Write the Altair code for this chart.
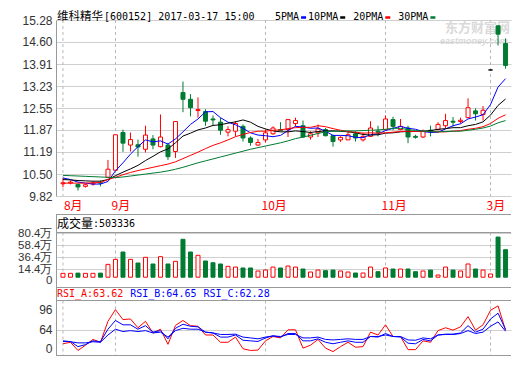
import altair as alt
import pandas as pd

# ---------------- data ----------------
opens = [10.20, 10.22, 10.18, 10.12, 10.19, 10.23, 10.40, 10.62, 11.79, 11.40,
         11.41, 11.27, 11.59, 11.35, 11.40, 11.20, 13.03, 12.82, 12.47, 12.44,
         12.21, 12.11, 11.80, 11.83, 11.98, 11.62, 11.40, 11.56, 11.75, 11.88,
         11.88, 12.07, 12.00, 11.65, 11.78, 11.88, 11.69, 11.56, 11.56, 11.75,
         11.56, 11.67, 11.83, 11.88, 12.19, 11.88, 11.93, 11.67, 11.65, 11.86,
         11.88, 12.00, 12.14, 12.13, 12.25, 12.46, 12.35, 13.73, 15.10, 14.55]
highs = [10.37, 10.30, 10.20, 10.20, 10.28, 10.30, 10.94, 11.72, 11.88, 11.79,
         11.57, 12.00, 11.71, 12.35, 11.47, 12.13, 13.37, 12.98, 12.88, 12.51,
         12.32, 12.25, 11.98, 12.14, 12.04, 11.67, 11.59, 11.88, 11.98, 12.11,
         12.19, 12.25, 12.16, 11.83, 12.04, 11.93, 11.72, 11.67, 11.83, 11.83,
         11.78, 12.14, 12.00, 12.32, 12.28, 12.21, 12.00, 11.72, 11.88, 12.00,
         12.11, 12.37, 12.27, 12.25, 12.85, 12.54, 12.61, 13.73, 15.10, 14.71]
lows = [10.09, 10.18, 9.99, 10.08, 10.14, 10.12, 10.37, 10.60, 11.19, 11.20,
        11.04, 11.17, 11.27, 11.33, 10.94, 11.00, 12.42, 12.29, 12.25, 12.00,
        12.00, 11.72, 11.67, 11.67, 11.51, 11.38, 11.38, 11.48, 11.72, 11.83,
        11.65, 11.98, 11.62, 11.57, 11.65, 11.67, 11.35, 11.50, 11.56, 11.51,
        11.51, 11.65, 11.67, 11.86, 11.86, 11.86, 11.46, 11.60, 11.62, 11.67,
        11.86, 11.93, 11.98, 12.07, 12.25, 12.16, 12.16, 13.73, 14.49, 13.77]
closes = [10.23, 10.25, 10.10, 10.17, 10.22, 10.22, 10.65, 11.72, 11.46, 11.57,
          11.34, 11.71, 11.40, 11.65, 11.04, 12.13, 12.82, 12.56, 12.50, 12.14,
          12.18, 11.86, 11.88, 12.07, 11.62, 11.48, 11.48, 11.78, 11.93, 11.85,
          12.19, 12.16, 11.65, 11.75, 11.90, 11.69, 11.51, 11.64, 11.72, 11.62,
          11.67, 11.93, 11.80, 12.21, 11.98, 11.98, 11.65, 11.64, 11.83, 11.84,
          12.04, 12.16, 12.11, 12.17, 12.56, 12.37, 12.48, 13.73, 14.84, 13.87]
ma5 = [10.38, 10.33, 10.25, 10.22, 10.19, 10.19, 10.27, 10.60, 10.85, 11.12,
       11.35, 11.56, 11.50, 11.53, 11.43, 11.59, 11.81, 12.04, 12.21, 12.43,
       12.44, 12.25, 12.11, 12.03, 11.92, 11.78, 11.71, 11.69, 11.66, 11.70,
       11.85, 11.98, 11.96, 11.92, 11.93, 11.83, 11.70, 11.70, 11.69, 11.64,
       11.63, 11.72, 11.75, 11.85, 11.92, 11.98, 11.92, 11.89, 11.82, 11.79,
       11.80, 11.90, 12.00, 12.06, 12.21, 12.27, 12.34, 12.66, 13.20, 13.46]
ma10 = [10.33, 10.32, 10.30, 10.29, 10.28, 10.28, 10.33, 10.45, 10.56, 10.66,
        10.77, 10.92, 11.05, 11.19, 11.28, 11.47, 11.68, 11.77, 11.87, 11.93,
        12.01, 12.03, 12.08, 12.12, 12.18, 12.11, 11.98, 11.90, 11.84, 11.81,
        11.81, 11.84, 11.82, 11.79, 11.82, 11.84, 11.84, 11.83, 11.81, 11.78,
        11.73, 11.71, 11.72, 11.77, 11.78, 11.81, 11.82, 11.82, 11.83, 11.85,
        11.89, 11.91, 11.94, 11.94, 12.00, 12.04, 12.12, 12.33, 12.63, 12.83]
ma20 = [10.22, 10.22, 10.22, 10.22, 10.23, 10.24, 10.33, 10.40, 10.48, 10.55,
        10.61, 10.66, 10.71, 10.76, 10.81, 10.88, 10.98, 11.08, 11.18, 11.29,
        11.39, 11.47, 11.56, 11.66, 11.73, 11.79, 11.83, 11.83, 11.86, 11.87,
        11.91, 11.94, 11.95, 11.95, 12.00, 11.97, 11.91, 11.86, 11.82, 11.80,
        11.77, 11.78, 11.77, 11.78, 11.80, 11.82, 11.83, 11.82, 11.82, 11.82,
        11.81, 11.81, 11.83, 11.85, 11.89, 11.92, 11.97, 12.07, 12.23, 12.34]
ma30 = [10.46, 10.45, 10.44, 10.43, 10.42, 10.41, 10.40, 10.39, 10.41, 10.44,
        10.47, 10.50, 10.53, 10.56, 10.60, 10.65, 10.71, 10.78, 10.85, 10.91,
        10.97, 11.03, 11.09, 11.15, 11.21, 11.27, 11.32, 11.37, 11.42, 11.47,
        11.53, 11.60, 11.65, 11.70, 11.76, 11.81, 11.83, 11.83, 11.84, 11.84,
        11.85, 11.86, 11.87, 11.89, 11.92, 11.92, 11.88, 11.85, 11.83, 11.82,
        11.81, 11.82, 11.83, 11.83, 11.86, 11.89, 11.93, 11.99, 12.09, 12.16]
volumes_wan = [7.1, 7.1, 7.5, 7.1, 7.1, 7.5, 23.5, 32.7, 46.1, 32.7,
               26.0, 36.4, 24.2, 37.6, 24.2, 29.0, 69.4, 46.1, 40.1, 29.7,
               26.5, 24.2, 19.9, 18.6, 16.9, 16.9, 11.4, 13.1, 18.6, 16.9,
               20.5, 18.6, 15.0, 9.5, 13.1, 12.0, 13.1, 11.4, 9.5, 7.7,
               7.7, 18.6, 10.1, 16.9, 15.0, 15.0, 15.0, 10.1, 11.4, 13.1,
               4.0, 18.6, 13.1, 11.4, 24.2, 15.0, 13.1, 5.9, 73.5, 50.33]
rsi_a = [45.6, 47.6, 36.7, 43.7, 51.4, 47.6, 75.5, 91.0, 77.8, 78.6,
         66.9, 75.5, 60.0, 65.0, 44.9, 70.0, 76.6, 69.7, 68.9, 57.3,
         57.3, 47.6, 47.6, 54.5, 39.0, 36.7, 37.2, 49.5, 55.3, 53.4,
         64.2, 64.2, 39.8, 43.7, 51.4, 39.8, 35.2, 41.8, 47.6, 41.0,
         41.8, 61.1, 57.3, 70.8, 55.3, 55.3, 37.8, 37.8, 49.5, 47.6,
         63.1, 66.9, 63.8, 68.1, 81.7, 63.8, 70.8, 90.2, 96.0, 63.62]
rsi_b = [48.7, 48.7, 41.8, 44.5, 49.5, 48.3, 65.0, 76.6, 70.8, 70.8,
         65.0, 69.7, 61.1, 63.1, 52.2, 66.2, 71.6, 68.9, 68.1, 61.1,
         60.0, 54.5, 54.5, 57.3, 50.3, 49.5, 48.7, 53.4, 56.1, 54.5,
         59.2, 59.2, 49.5, 49.5, 52.2, 47.6, 45.6, 47.6, 49.5, 47.6,
         47.6, 55.3, 54.5, 59.2, 55.3, 54.5, 46.4, 45.6, 51.4, 49.5,
         57.3, 58.4, 58.4, 60.0, 69.7, 61.1, 65.0, 78.6, 86.3, 64.65]
rsi_c = [49.5, 48.3, 46.8, 46.8, 48.3, 47.6, 57.3, 65.0, 61.9, 63.1,
         61.9, 63.1, 60.0, 61.1, 54.5, 63.1, 66.2, 65.0, 65.0, 61.1,
         60.0, 58.0, 58.0, 58.4, 54.5, 53.4, 52.2, 54.5, 56.1, 55.3,
         58.0, 58.0, 53.4, 53.4, 54.5, 51.4, 50.7, 51.4, 52.2, 51.4,
         51.4, 55.3, 55.3, 57.3, 55.3, 55.3, 50.7, 50.3, 53.4, 52.2,
         57.3, 58.0, 58.0, 59.2, 63.1, 59.2, 61.1, 68.9, 74.7, 62.28]
month_index = [0, 7, 27, 43, 57]
month_labels = ["8月", "9月", "10月", "11月", "3月"]
price_ticks = [9.82, 10.50, 11.19, 11.87, 12.55, 13.23, 13.91, 14.60, 15.28]
volume_ticks = [14.4, 36.4, 58.4, 80.4]
rsi_ticks = [39, 64, 91]
rsi_tick_text = ["0", "64", "96"]
ma_names = ["5PMA", "10PMA", "20PMA", "30PMA"]
stock_name = "维科精华"
stock_info = "[600152] 2017-03-17 15:00"
last_volume = 503336

# ---------------- layout / style ----------------
W, H = 455, 336
RED, GREEN, BLUE, BLACK = "#ff0000", "#007b32", "#0000ff", "#000000"
GRID, FRAME, DASH = "#cfcfcf", "#999999", "#b8b8b8"
MONO = "DejaVu Sans Mono"
CJK = "Noto Sans CJK SC"
TITLE_Y = -0.5

X_DOMAIN = [-0.2608, 59.06]
PRICE_RANGE = [176, 0]
VOL_BOTTOM = -5.1
VOL_DOMAIN, VOL_RANGE = [VOL_BOTTOM, 82.2], [260, 212.3]
RSI_DOMAIN, RSI_RANGE = [30, 100], [335.5, 282.9]

n = len(closes)
idx = list(range(n))
one = pd.DataFrame({"k": [0]})


def xenc():
    return alt.X("i:Q", scale=alt.Scale(domain=X_DOMAIN, nice=False, zero=False), axis=None)


def pscale():
    return alt.Scale(domain=[price_ticks[0], price_ticks[-1]], range=PRICE_RANGE, nice=False, zero=False)


cdf = pd.DataFrame({"i": idx, "open": opens, "high": highs, "low": lows, "close": closes})
cdf["dir"] = ["flat" if h == l else ("up" if c >= o else "down")
              for o, h, l, c in zip(opens, highs, lows, closes)]

dir_dom = ["up", "down", "flat"]
stroke_sc = alt.Scale(domain=dir_dom, range=[RED, GREEN, BLACK])
fill_sc = alt.Scale(domain=dir_dom, range=["#ffffff", GREEN, BLACK])

main_axis = alt.Axis(values=price_ticks, format=".2f", grid=True, gridColor=GRID, ticks=False,
                     labelPadding=4, domain=True, domainColor=FRAME, title=None, orient="left",
                     labelOverlap=False)

wicks = alt.Chart(cdf).mark_rule(strokeWidth=1).encode(
    x=xenc(), y=alt.Y("low:Q", scale=pscale(), axis=None), y2="high:Q",
    stroke=alt.Stroke("dir:N", scale=stroke_sc, legend=None))
bodies = alt.Chart(cdf).mark_bar(size=4, strokeWidth=1).encode(
    x=xenc(), y=alt.Y("open:Q", scale=pscale(), axis=main_axis), y2="close:Q",
    fill=alt.Fill("dir:N", scale=fill_sc, legend=None),
    stroke=alt.Stroke("dir:N", scale=stroke_sc, legend=None))

ma_rows = []
for name, vals in zip(ma_names, [ma5, ma10, ma20, ma30]):
    for i, v in enumerate(vals):
        ma_rows.append({"i": i, "v": v, "s": name})
ma_lines = alt.Chart(pd.DataFrame(ma_rows)).mark_line(strokeWidth=1).encode(
    x=xenc(), y=alt.Y("v:Q", scale=pscale(), axis=None),
    color=alt.Color("s:N", scale=alt.Scale(domain=ma_names, range=[BLUE, BLACK, RED, GREEN]), legend=None))

vdf = pd.DataFrame({"i": idx, "vol": volumes_wan})
vdf["dir"] = ["up" if c >= o else "down" for o, c in zip(opens, closes)]
vol_axis = alt.Axis(values=[VOL_BOTTOM] + volume_ticks,
                    labelExpr="datum.value < 0 ? '0' : format(datum.value, '.1f') + '万'",
                    grid=True, gridColor=GRID,
                    gridOpacity={"condition": {"test": "datum.value < 0", "value": 0}, "value": 1},
                    ticks=False, labelPadding=4, domain=False, title=None, orient="left",
                    labelOverlap=False, labelFontSize=11.5)
vol_bars = alt.Chart(vdf).mark_bar(size=4, strokeWidth=1).encode(
    x=xenc(),
    y=alt.Y("vol:Q", scale=alt.Scale(domain=VOL_DOMAIN, range=VOL_RANGE, nice=False, zero=False), axis=vol_axis),
    y2=alt.value(VOL_RANGE[0]),
    fill=alt.Fill("dir:N", scale=fill_sc, legend=None),
    stroke=alt.Stroke("dir:N", scale=stroke_sc, legend=None))

rsi_names = ["RSI_A", "RSI_B", "RSI_C"]
rsi_rows = []
for name, vals in zip(rsi_names, [rsi_a, rsi_b, rsi_c]):
    for i, v in enumerate(vals):
        rsi_rows.append({"i": i, "v": v, "s": name})
label_expr = " : ".join(f"datum.value == {v} ? '{t}'" for v, t in zip(rsi_ticks, rsi_tick_text)) + " : ''"
rsi_axis = alt.Axis(values=rsi_ticks, labelExpr=label_expr, grid=True, gridColor=GRID,
                    gridOpacity={"condition": {"test": "datum.value == 64", "value": 1}, "value": 0},
                    ticks=False, labelPadding=4, domain=False, title=None, orient="left",
                    labelOverlap=False)
rsi_lines = alt.Chart(pd.DataFrame(rsi_rows)).mark_line(strokeWidth=1).encode(
    x=xenc(), y=alt.Y("v:Q", scale=alt.Scale(domain=RSI_DOMAIN, range=RSI_RANGE, nice=False, zero=False), axis=rsi_axis),
    color=alt.Color("s:N", scale=alt.Scale(domain=rsi_names, range=[RED, BLUE, BLUE]), legend=None))

mdf = pd.DataFrame({"i": month_index, "label": month_labels})
month_rules = [
    alt.Chart(mdf).mark_rule(color=DASH, strokeDash=[3, 3], strokeWidth=1).encode(
        x=xenc(), y=alt.value(y1), y2=alt.value(y2))
    for y1, y2 in [(0, 176), (212.5, 260), (280.5, 335.5)]
]
month_text_first = alt.Chart(mdf.iloc[:1]).mark_text(
    align="left", baseline="middle", color=RED, fontSize=12, font=CJK, dx=1).encode(
    x=xenc(), y=alt.value(186), text="label:N")
month_text_rest = alt.Chart(mdf.iloc[1:]).mark_text(
    align="left", baseline="middle", color=RED, fontSize=12, font=CJK, dx=-4).encode(
    x=xenc(), y=alt.value(186), text="label:N")


def hline(y):
    return alt.Chart(one).mark_rule(color=FRAME, strokeWidth=1).encode(
        x=alt.value(0), x2=alt.value(W), y=alt.value(y))


frames = [hline(y) for y in [194.5, 212.5, 267.5, 280.5, 335.5]]
frames.append(alt.Chart(one).mark_rule(color=FRAME, strokeWidth=1).encode(
    x=alt.value(0.5), y=alt.value(194), y2=alt.value(336)))


def label(text, x, y, color=BLACK, size=12, font=CJK, baseline="middle", **kw):
    return alt.Chart(one).mark_text(text=text, align="left", baseline=baseline, color=color,
                                    fontSize=size, font=font, **kw).encode(
        x=alt.value(x), y=alt.value(y))


texts = [
    label("东方财富网", 389, 8, color="#d9d9d9", size=13, fontWeight="bold"),
    label("eastmoney.com", 384, 21, color="#d9d9d9", size=9, font="Liberation Sans",
          fontWeight="bold", fontStyle="italic"),
    label(stock_name, 1, TITLE_Y, size=11.5, baseline="alphabetic"),
    label(stock_info, 48, TITLE_Y, size=10, font=MONO, baseline="alphabetic"),
    label("成交量", 1, 203.5, size=12),
    label(f":{last_volume}", 37, 203.5, size=10, font=MONO),
]
rsi_colors = [RED, BLUE, BLUE]
rx = 1
for name, vals, col in zip(rsi_names, [rsi_a, rsi_b, rsi_c], rsi_colors):
    s = f"{name}:{vals[-1]:.2f}"
    texts.append(label(s, rx, 273.5, color=col, size=10, font=MONO))
    rx += len(s) * 6.02 + 7

ma_colors = [BLUE, BLACK, RED, GREEN]
lx = 219
for name, col in zip(ma_names, ma_colors):
    texts.append(label(name, lx, TITLE_Y, size=10, font=MONO, baseline="alphabetic"))
    dx0 = lx + len(name) * 6.02 + 2
    texts.append(alt.Chart(one).mark_rule(color=col, strokeWidth=2.5).encode(
        x=alt.value(dx0), x2=alt.value(dx0 + 5), y=alt.value(TITLE_Y - 2)))
    lx = dx0 + 5 + (8 if name != "5PMA" else 2)

chart = alt.layer(
    *month_rules, *frames, texts[0], texts[1],
    wicks, bodies, ma_lines, vol_bars, rsi_lines,
    month_text_first, month_text_rest, *texts[2:]
).resolve_scale(
    y="independent", color="independent", fill="independent", stroke="independent"
).properties(
    width=W, height=H,
    padding={"left": 48, "top": 12, "right": 1, "bottom": 0},
    autosize=alt.AutoSizeParams(type="none"),
    background="white",
).configure_view(strokeWidth=0).configure_axis(
    labelFont="Liberation Sans", labelFontSize=12, labelColor="#333333"
)

chart.save("out.html", embed_options={"renderer": "svg", "actions": False})
